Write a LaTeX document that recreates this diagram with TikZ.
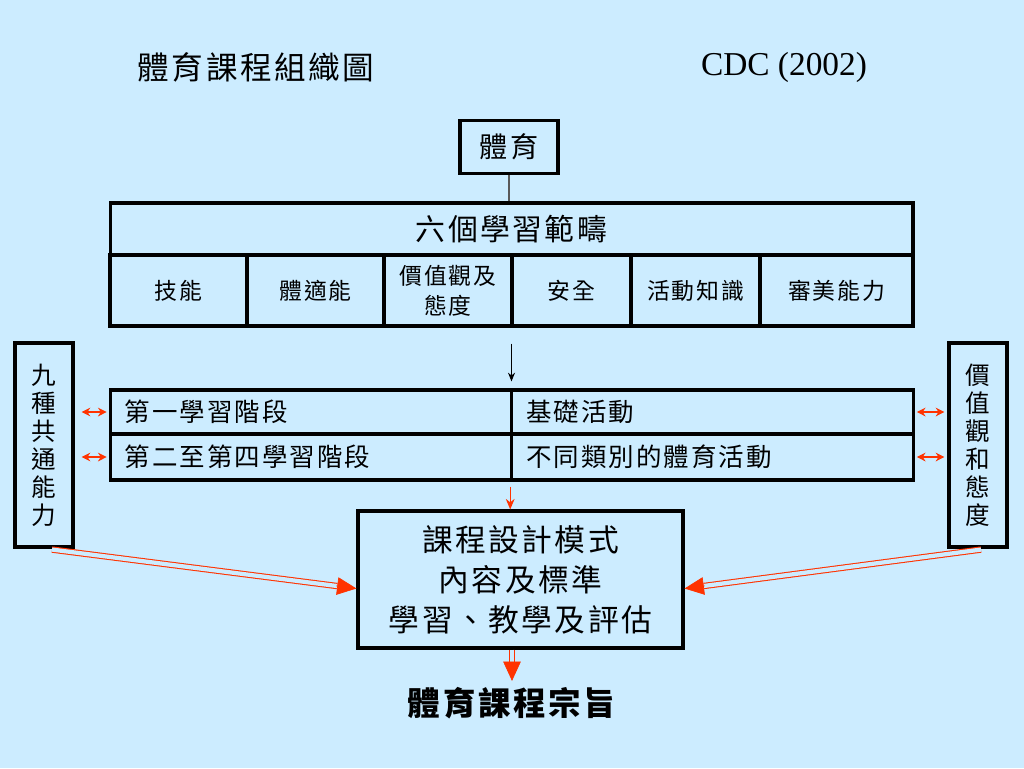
\documentclass[tikz,border=0pt]{standalone}
\usepackage{fontspec}
\setmainfont{Liberation Serif}
\newfontfamily\cjk{Noto Sans CJK TC}[LetterSpace=8]
\usetikzlibrary{arrows.meta, calc}
\definecolor{slidebg}{RGB}{204,236,255}
\definecolor{arrowred}{RGB}{255,51,0}

\begin{document}
\begin{tikzpicture}[
          x=0.02cm, y=-0.02cm,
          box/.style={rectangle, draw=black, line width=1.8pt, inner sep=0pt, align=center},
          domaincell/.style={box, minimum height=1.42cm, font=\cjk\fontsize{13}{15}\selectfont},
          stagecell/.style={box, minimum width=8.03cm, text width=7.45cm, align=left, font=\cjk\fontsize{14.5}{17}\selectfont},
          sidebox/.style={box, minimum width=1.16cm, minimum height=4.08cm, font=\cjk\fontsize{14}{0.56cm}\selectfont},
          linkarrow/.style={draw=arrowred, line width=0.6pt, {Stealth[length=5pt,width=5pt]}-{Stealth[length=5pt,width=5pt]}},
          dblline/.style={draw=arrowred, line width=0.6pt, double=slidebg, double distance=2.4pt},
          dbltip/.style={draw=arrowred, fill=arrowred, line width=0.4pt, -{Triangle[length=11pt,width=10pt]}}
        ]
          % Slide background
          \fill[slidebg] (0,0) rectangle (1024,768);
          \useasboundingbox (0,0) rectangle (1024,768);

          % Heading
          \node[font=\cjk\fontsize{18}{21}\selectfont] (title) at (256,67) {體育課程組織圖};
          \node[font=\fontsize{19}{22}\selectfont] (cdc) at (784,67) {CDC (2002)};

          % Top box and six learning domains
          \node[box, minimum width=1.96cm, minimum height=1.06cm, font=\cjk\fontsize{16}{19}\selectfont] (pe) at (509,147) {體育};
          \node[box, minimum width=16.06cm, minimum height=1.04cm, font=\cjk\fontsize{17}{20}\selectfont] (domains) at (511.5,229) {六個學習範疇};
          \node[domaincell, minimum width=2.74cm] (skill) at (178.5,290.5) {技能};
          \node[domaincell, minimum width=2.74cm] (fitness) at (315.5,290.5) {體適能};
          \node[domaincell, minimum width=2.56cm, font=\cjk\fontsize{13}{0.6cm}\selectfont] (attitude) at (448,290.5) {價值觀及\\態度};
          \node[domaincell, minimum width=2.38cm] (safety) at (571.5,290.5) {安全};
          \node[domaincell, minimum width=2.58cm] (knowledge) at (695.5,290.5) {活動知識};
          \node[domaincell, minimum width=3.06cm] (aesthetic) at (836.5,290.5) {審美能力};

          \draw[gray!70!black, line width=0.6pt] (pe.south) -- (pe.south |- domains.north);

          % Key stages
          \node[stagecell, minimum height=0.88cm] (stage1) at (311,412) {第一學習階段};
          \node[stagecell, minimum height=0.92cm] (stage2) at (311,457) {第二至第四學習階段};
          \node[stagecell, minimum height=0.88cm] (activity1) at (712.5,412) {基礎活動};
          \node[stagecell, minimum height=0.92cm] (activity2) at (712.5,457) {不同類別的體育活動};

          \draw[-{Stealth[length=5pt,width=4pt]}, line width=0.6pt, shorten <=0.32cm, shorten >=0.14cm] (domains.south |- safety.south) -- (domains.south |- stage1.north);

          % Side boxes
          \node[sidebox] (generic) at (44,445) {九\\種\\共\\通\\能\\力};
          \node[sidebox] (values) at (978,445) {價\\值\\觀\\和\\態\\度};

          \draw[linkarrow, shorten <=0.14cm, shorten >=0.04cm] (generic.east |- stage1.west) -- (stage1.west);
          \draw[linkarrow, shorten <=0.14cm, shorten >=0.04cm] (generic.east |- stage2.west) -- (stage2.west);
          \draw[linkarrow, shorten <=0.04cm, shorten >=0.06cm] (activity1.east) -- (values.west |- activity1.east);
          \draw[linkarrow, shorten <=0.04cm, shorten >=0.06cm] (activity2.east) -- (values.west |- activity2.east);

          % Curriculum design box
          \node[box, minimum width=6.5cm, minimum height=2.74cm, font=\cjk\fontsize{17.5}{0.8cm}\selectfont] (design) at (520.5,579.5) {課程設計模式\\內容及標準\\學習、教學及評估};

          \draw[draw=arrowred, line width=0.6pt, -{Stealth[length=6pt,width=5pt]}, shorten <=0.1cm] (stage2.south -| activity2.west) -- (activity2.west |- design.north);

          % Double red connectors
          \coordinate (genericfoot) at ($(generic.south)+(8,1)$);
          \coordinate (valuesfoot) at ($(values.south)+(3,1)$);
          \coordinate (designleft) at ($(design.west)+(0,9)$);
          \coordinate (designright) at ($(design.east)+(0,9)$);
          \draw[dblline] (genericfoot) -- ($(designleft)!11pt!(genericfoot)$);
          \draw[dbltip] ($(designleft)!11.5pt!(genericfoot)$) -- (designleft);
          \draw[dblline] (valuesfoot) -- ($(designright)!11pt!(valuesfoot)$);
          \draw[dbltip] ($(designright)!11.5pt!(valuesfoot)$) -- (designright);

          % Aim
          \node[font=\cjk\bfseries\fontsize{18.5}{22}\selectfont] (aim) at (512,703) {體育課程宗旨};
          \draw[dblline] (design.south -| aim.north) -- ($(aim.north)+(0,-12)$);
          \draw[dbltip] ($(aim.north)+(0,-12.5)$) -- (aim.north);
        \end{tikzpicture}
\end{document}
